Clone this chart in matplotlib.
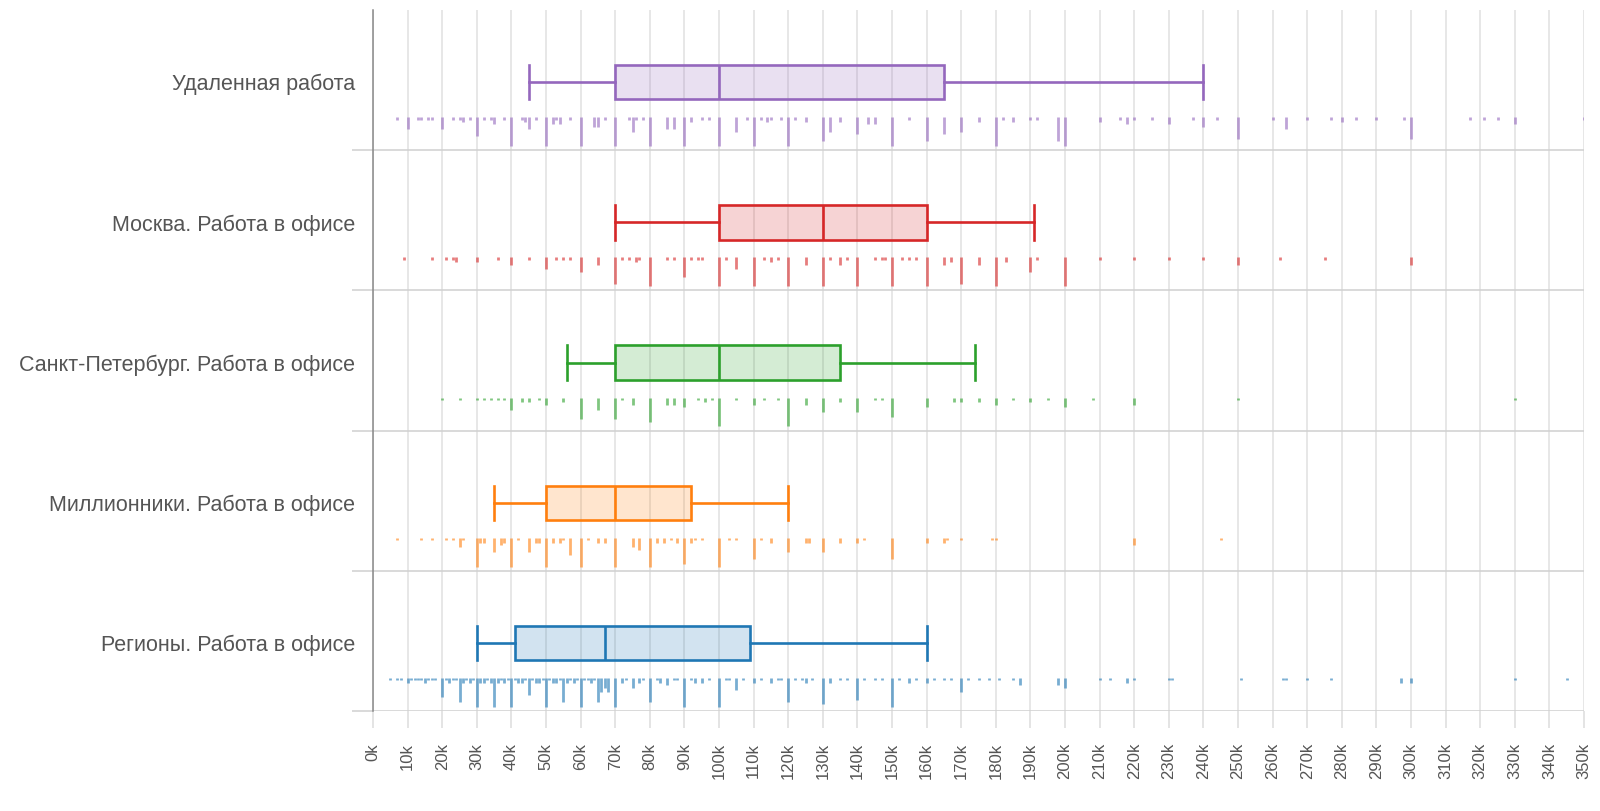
import matplotlib
matplotlib.use("Agg")
import matplotlib.pyplot as plt
from matplotlib.colors import to_rgba

plt.rcParams['font.family'] = ['Liberation Sans', 'DejaVu Sans']

# categories, top to bottom
labels = ["Удаленная работа", "Москва. Работа в офисе", "Санкт-Петербург. Работа в офисе",
          "Миллионники. Работа в офисе", "Регионы. Работа в офисе"]
colors = ["#9467bd", "#d62728", "#2ca02c", "#ff7f0e", "#1f77b4"]

# box stats, thousands of rubles: whisker low, q1, median, q3, whisker high
whislo = [45, 70, 56, 35, 30]
q1 = [70, 100, 70, 50, 41]
med = [100, 130, 100, 70, 67]
q3 = [165, 160, 135, 92, 109]
whishi = [240, 191, 174, 120, 160]

# rug: salary value (k) and count of answers
remote_x = [7, 10, 13, 14, 16, 17, 20, 23, 25, 26, 28, 30, 32, 34, 35, 38, 40, 43, 44, 45, 47, 50, 52, 53, 54, 57,
            60, 64, 65, 67, 70, 74, 75, 76, 78, 80, 85, 87, 90, 92, 95, 97, 100, 105, 108, 110, 112, 114, 115, 118,
            120, 122, 125, 130, 132, 135, 140, 143, 145, 150, 155, 160, 165, 170, 175, 180, 182, 185, 190, 192, 198,
            200, 210, 216, 218, 220, 225, 230, 237, 240, 244, 250, 260, 264, 270, 277, 280, 284, 290, 298, 300, 317,
            321, 325, 330, 350]
remote_n = [1, 5, 1, 1, 1, 1, 5, 1, 1, 2, 1, 8, 1, 1, 3, 1, 12, 1, 2, 5, 1, 12, 3, 1, 3, 1,
            12, 4, 4, 1, 12, 1, 6, 1, 1, 12, 5, 5, 12, 2, 1, 1, 12, 6, 1, 12, 1, 2, 1, 1,
            12, 1, 2, 10, 6, 2, 7, 3, 3, 12, 1, 10, 7, 6, 2, 12, 1, 2, 1, 1, 10,
            12, 2, 1, 3, 1, 1, 3, 1, 4, 1, 9, 1, 5, 1, 1, 2, 1, 1, 1, 9, 1,
            1, 1, 3, 1]

msk_x = [9, 17, 21, 23, 24, 30, 36, 40, 45, 50, 53, 55, 57, 60, 65, 70, 72, 74, 76, 77, 80, 85, 87, 90, 92, 94, 95,
         100, 102, 105, 110, 113, 115, 117, 120, 125, 130, 132, 135, 137, 140, 145, 147, 148, 150, 153, 155, 157,
         160, 165, 167, 170, 175, 180, 183, 190, 192, 200, 210, 220, 230, 240, 250, 262, 275, 300]
msk_n = [1, 1, 1, 1, 2, 2, 1, 3, 1, 5, 1, 1, 1, 6, 3, 11, 1, 1, 2, 1, 12, 1, 1, 8, 1, 1, 1,
         12, 1, 5, 12, 1, 2, 1, 12, 3, 12, 1, 3, 1, 12, 1, 1, 1, 12, 1, 1, 1,
         12, 3, 2, 11, 3, 12, 2, 6, 1, 12, 1, 1, 1, 1, 3, 1, 1, 3]

spb_x = [20, 25, 30, 32, 34, 36, 38, 40, 43, 45, 48, 50, 55, 60, 65, 70, 72, 75, 80, 85, 87, 90, 94, 96, 98, 100,
         105, 110, 113, 117, 120, 125, 130, 135, 140, 145, 147, 150, 160, 168, 170, 175, 180, 185, 190, 195, 200,
         208, 220, 250, 330]
spb_n = [1, 1, 1, 1, 1, 1, 1, 5, 2, 2, 1, 3, 2, 9, 5, 9, 1, 3, 10, 3, 3, 4, 1, 2, 1, 12,
         1, 3, 1, 1, 12, 3, 6, 2, 6, 1, 1, 8, 4, 2, 2, 2, 3, 1, 2, 1, 4,
         1, 3, 1, 1]

mln_x = [7, 14, 17, 21, 23, 25, 26, 30, 31, 32, 35, 37, 38, 40, 42, 45, 47, 48, 50, 52, 54, 55, 57, 60, 62, 65, 67,
         70, 75, 77, 80, 82, 84, 86, 88, 90, 92, 93, 95, 100, 103, 105, 110, 112, 115, 120, 125, 126, 130, 135,
         140, 142, 150, 160, 165, 166, 170, 179, 180, 220, 245]
mln_n = [1, 1, 1, 1, 1, 4, 1, 12, 2, 2, 6, 3, 2, 12, 1, 6, 2, 2, 12, 2, 2, 1, 7, 12, 1, 2, 2,
         12, 4, 5, 12, 2, 2, 1, 2, 11, 2, 1, 1, 12, 1, 1, 9, 1, 2, 6, 2, 2, 6, 2,
         2, 1, 9, 2, 2, 1, 1, 1, 1, 3, 1]

reg_x = [5, 7, 8, 10, 11, 12, 13, 14, 15, 16, 17, 18, 20, 21, 22, 23, 24, 25, 26, 27, 28, 29, 30, 31, 32, 33, 34,
         35, 36, 37, 38, 39, 40, 41, 42, 43, 44, 45, 46, 47, 48, 49, 50, 51, 52, 53, 54, 55, 56, 57, 58, 59, 60,
         61, 62, 63, 64, 65, 66, 67, 68, 70, 72, 73, 75, 77, 78, 80, 82, 83, 85, 87, 88, 90, 92, 93, 95, 97, 100,
         102, 103, 105, 107, 110, 112, 115, 117, 118, 120, 122, 124, 125, 127, 130, 132, 135, 137, 140, 142, 145,
         147, 150, 152, 155, 157, 160, 162, 165, 167, 170, 172, 175, 178, 181, 185, 187, 198, 200, 210, 213, 218,
         220, 230, 231, 251, 263, 264, 270, 277, 297, 300, 330, 345]
reg_n = [1, 1, 1, 2, 1, 1, 1, 1, 2, 1, 1, 1, 8, 1, 2, 1, 1, 10, 2, 1, 2, 1, 12, 2, 2, 1, 2,
         12, 2, 1, 2, 1, 12, 1, 2, 2, 1, 7, 1, 2, 2, 1, 12, 1, 2, 2, 1, 10, 2, 1, 2, 1, 12,
         1, 1, 2, 1, 10, 6, 4, 6, 12, 2, 1, 4, 2, 1, 10, 1, 2, 3, 1, 1, 12, 1, 2, 2, 1, 12,
         1, 1, 5, 1, 2, 1, 2, 1, 1, 10, 1, 1, 2, 1, 11, 2, 1, 1, 9, 1, 1,
         1, 12, 1, 2, 1, 2, 1, 1, 1, 6, 1, 1, 1, 1, 1, 3, 3, 4, 1, 1, 2,
         1, 1, 1, 1, 1, 1, 1, 1, 2, 2, 1, 1]

rug_x = [remote_x, msk_x, spb_x, mln_x, reg_x]
rug_n = [remote_n, msk_n, spb_n, mln_n, reg_n]

box_pos = 0.515      # box centre inside each band
box_h = 0.245
rug_top = 0.765
rug_len = 0.205

fig = plt.figure(figsize=(16, 8.11), dpi=100)
ax = fig.add_axes([373 / 1600, 1 - 711 / 811, 1211 / 1600, 701 / 811])

for i in range(5):
    c = colors[i]
    st = [dict(whislo=whislo[i], q1=q1[i], med=med[i], q3=q3[i], whishi=whishi[i], fliers=[])]
    ax.bxp(st, positions=[i + box_pos], widths=box_h, capwidths=box_h, orientation='horizontal',
           patch_artist=True, showfliers=False,
           boxprops=dict(facecolor=to_rgba(c, 0.2), linewidth=1.9, edgecolor=c),
           medianprops=dict(color=c, linewidth=1.9),
           whiskerprops=dict(color=c, linewidth=1.9),
           capprops=dict(color=c, linewidth=1.9))
    mx = max(rug_n[i])
    y0 = i + rug_top
    ax.vlines(rug_x[i], y0, [y0 + rug_len * n / mx for n in rug_n[i]],
              color=c, alpha=0.6, linewidth=2)

ax.set_xlim(0, 350)
ax.set_ylim(5, 0)

xt = list(range(0, 351, 10))
ax.set_xticks(xt)
ax.set_xticklabels([f"{v}k" for v in xt], rotation=90, fontsize=12, color="#555")
ax.tick_params(axis='x', length=12, width=1.1, color="#dcdcdc", pad=11)
ax.grid(axis='x', color="#e0e0e0", linewidth=1.1)

# band separators
ax.set_yticks([1, 2, 3, 4, 5])
ax.set_yticklabels([])
ax.tick_params(axis='y', which='major', length=15, width=1.1, color="#d0d0d0")
ax.grid(axis='y', which='major', color="#d0d0d0", linewidth=1.1)
ax.set_yticks([i + box_pos for i in range(5)], minor=True)
ax.set_yticklabels(labels, minor=True, fontsize=15.5, color="#555")
ax.tick_params(axis='y', which='minor', length=0, pad=13)

for s in ['top', 'right', 'bottom']:
    ax.spines[s].set_visible(False)
ax.spines['left'].set_color("#888")
ax.spines['left'].set_linewidth(1.1)
ax.xaxis.get_major_ticks()[0].tick1line.set_color("#888")
ax.set_axisbelow(True)

fig.savefig("out.png", dpi=100)
